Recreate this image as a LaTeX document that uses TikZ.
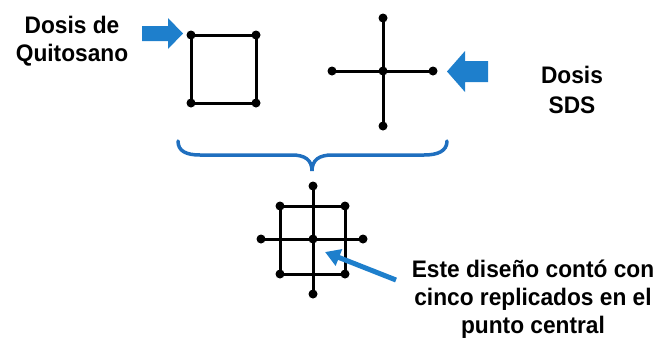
\documentclass[tikz,border=0pt]{standalone}
\usepackage{fontspec}
\setmainfont[FakeStretch=0.95]{Liberation Sans}
\usetikzlibrary{arrows.meta}
\definecolor{arrowblue}{RGB}{30,127,204}
\definecolor{braceblue}{RGB}{31,111,191}
\tikzset{
  dot/.style={circle,fill=black,inner sep=0pt,minimum size=9bp},
  grid/.style={line width=3bp,black},
  label/.style={font=\fontsize{24}{28}\selectfont\bfseries,align=center,inner sep=0pt},
  blockarrow/.style={fill=arrowblue},
  brace/.style={draw=braceblue,line width=3.5bp,line cap=round},
  pointer/.style={draw=arrowblue,line width=5bp,-{Triangle[length=15bp,width=17bp]}}
}
\begin{document}
\begin{tikzpicture}[x=1bp,y=-1bp]
\useasboundingbox (0,0) rectangle (657,340);
% square design
\node[dot] (q1) at (191,35) {};
\node[dot] (q2) at (256,35) {};
\node[dot] (q3) at (256,103) {};
\node[dot] (q4) at (191,103) {};
\draw[grid] (q1.center) -- (q2.center) -- (q3.center) -- (q4.center) -- cycle;
% star design
\node[dot] (sc) at (383,71) {};
\node[dot] (st) at (383,18) {};
\node[dot] (sb) at (383,126) {};
\node[dot] (sl) at (332,71) {};
\node[dot] (sr) at (433,71) {};
\draw[grid] (st.center) -- (sb.center);
\draw[grid] (sl.center) -- (sr.center);
% combined design
\node[dot] (cc) at (313,239) {};
\node[dot] (ct) at (313,186) {};
\node[dot] (cb) at (313,294) {};
\node[dot] (cl) at (261,239) {};
\node[dot] (cr) at (363,239) {};
\node[dot] (c1) at (280,206) {};
\node[dot] (c2) at (345,206) {};
\node[dot] (c3) at (345,274) {};
\node[dot] (c4) at (280,274) {};
\draw[grid] (c1.center) -- (c2.center) -- (c3.center) -- (c4.center) -- cycle;
\draw[grid] (ct.center) -- (cb.center);
\draw[grid] (cl.center) -- (cr.center);
% block arrows
\fill[blockarrow] (142,26) -- (168,26) -- (168,18) -- (183,33.5) -- (168,49) -- (168,41) -- (142,41) -- cycle;
\fill[blockarrow] (488,61) -- (465,61) -- (465,51) -- (447,71.5) -- (465,92) -- (465,82) -- (488,82) -- cycle;
% brace
\draw[brace] (178,141) .. controls (178,151) and (186,155) .. (200,155) -- (292,155)
  .. controls (305,155) and (312,160) .. (312,171)
  .. controls (312,160) and (319,155) .. (332,155) -- (424,155)
  .. controls (438,155) and (447,151) .. (447,141);
% labels
\node[label] (lq) at (72,41.5) {Dosis de\\Quitosano};
\node[label] (ls) at (572,90) {Dosis\\[2bp]SDS};
\node[label] (lc) at (533,299.5) {Este diseño contó con\\cinco replicados en el\\punto central};
% pointer arrow
\coordinate (ptail) at (396,280);
\coordinate (ptip) at (325,252);
\draw[pointer] (ptail) -- (ptip);
\end{tikzpicture}
\end{document}
